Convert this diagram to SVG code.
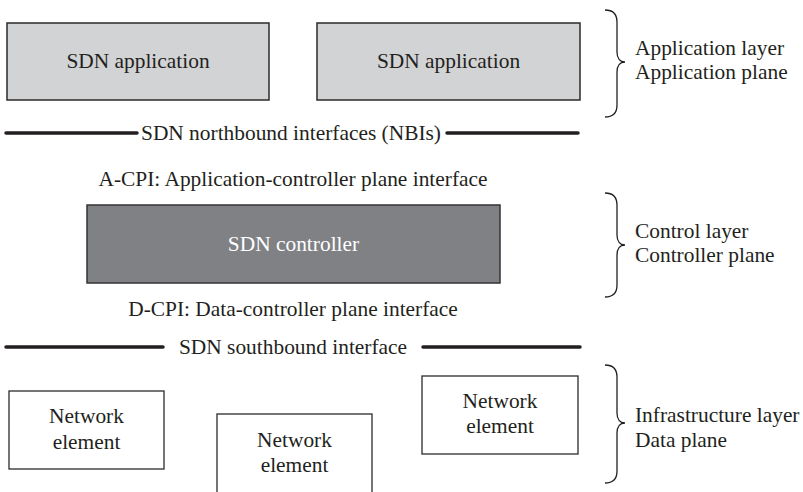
<svg xmlns="http://www.w3.org/2000/svg" width="803" height="492" viewBox="0 0 803 492">
  <style>
    text { font-family: 'Liberation Serif', 'Times New Roman', Tinos, 'DejaVu Serif', serif; font-size: 21.4px; fill: #231f20; }
    .mid { text-anchor: middle; }
    .app { fill: #d2d3d5; stroke: #2b2b2b; stroke-width: 1.5; }
    .ctl { fill: #808185; stroke: #333; stroke-width: 1.5; }
    .ne { fill: #fff; stroke: #2b2b2b; stroke-width: 1.3; }
    .bar { stroke: #231f20; stroke-width: 3.5; stroke-linecap: round; fill: none; }
    .brace { stroke: #231f20; stroke-width: 1.3; fill: none; }
    .light { fill: #fff; }
  </style>
  <rect width="803" height="492" fill="#fff"/>

  <!-- application plane -->
  <g id="app1">
    <rect class="app" x="7" y="23" width="262" height="77"/>
    <text class="mid" x="138" y="68">SDN application</text>
  </g>
  <g id="app2">
    <rect class="app" x="317" y="23" width="263" height="77"/>
    <text class="mid" x="448.5" y="68">SDN application</text>
  </g>

  <!-- controller plane -->
  <g id="controller">
    <rect class="ctl" x="87" y="205" width="413" height="78"/>
    <text class="mid light" x="293.5" y="251">SDN controller</text>
  </g>

  <!-- data plane -->
  <g id="ne1">
    <rect class="ne" x="9" y="391" width="155" height="78"/>
    <text class="mid" x="86.5" y="423">Network</text>
    <text class="mid" x="86.5" y="449">element</text>
  </g>
  <g id="ne2">
    <rect class="ne" x="217" y="414" width="155" height="90"/>
    <text class="mid" x="294.5" y="447">Network</text>
    <text class="mid" x="294.5" y="472">element</text>
  </g>
  <g id="ne3">
    <rect class="ne" x="422" y="376" width="156" height="78"/>
    <text class="mid" x="500" y="408">Network</text>
    <text class="mid" x="500" y="433">element</text>
  </g>

  <!-- interface bars and labels -->
  <g id="connectors">
    <line class="bar" x1="6" y1="133" x2="137" y2="133"/>
    <line class="bar" x1="447" y1="133" x2="578" y2="133"/>
    <line class="bar" x1="6" y1="347" x2="163" y2="347"/>
    <line class="bar" x1="423" y1="347" x2="580" y2="347"/>
  </g>
  <g id="interfaces">
    <text class="mid" x="291" y="140">SDN northbound interfaces (NBIs)</text>
    <text class="mid" x="293" y="186">A-CPI: Application-controller plane interface</text>
    <text class="mid" x="293" y="316">D-CPI: Data-controller plane interface</text>
    <text class="mid" x="293" y="354">SDN southbound interface</text>
  </g>

  <!-- layer braces -->
  <g id="layer-app">
    <path class="brace" d="M605,10 C613,10 617,14 617,22 L617,52 C617,58 620,62 625,62 C620,62 617,66 617,72 L617,105 C617,113 613,117 605,117"/>
    <text x="635" y="55">Application layer</text>
    <text x="635" y="79">Application plane</text>
  </g>
  <g id="layer-control">
    <path class="brace" d="M605,193 C613,193 617,197 617,205 L617,235 C617,241 620,245 625,245 C620,245 617,249 617,255 L617,285 C617,293 613,297 605,297"/>
    <text x="635" y="238">Control layer</text>
    <text x="635" y="262">Controller plane</text>
  </g>
  <g id="layer-infra">
    <path class="brace" d="M605,365 C613,365 617,369 617,377 L617,413 C617,419 620,423 625,423 C620,423 617,427 617,433 L617,471 C617,479 613,483 605,483"/>
    <text x="635" y="422">Infrastructure layer</text>
    <text x="635" y="447">Data plane</text>
  </g>
</svg>
